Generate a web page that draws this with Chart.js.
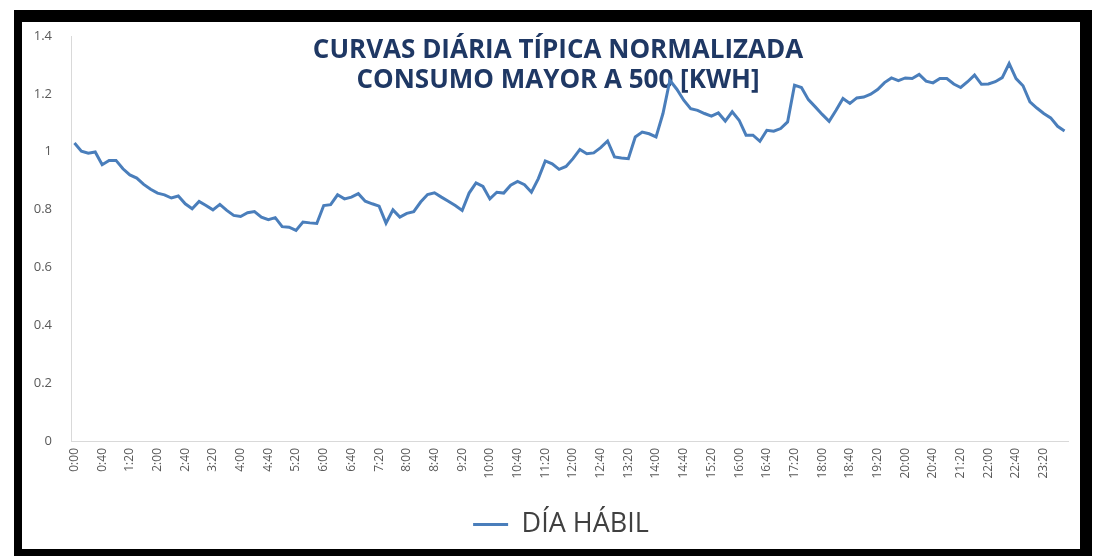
<!DOCTYPE html>
<html>
<head>
<meta charset="utf-8">
<script src="https://cdn.jsdelivr.net/npm/chart.js"></script>
<style>
  body { margin: 0; background: #fff; }
  #frame { position: absolute; left: 14px; top: 10px; width: 1078px; height: 546px; background: #000; }
  #inner { position: absolute; left: 8px; top: 12px; width: 1058px; height: 527px; background: #fff; }
</style>
</head>
<body>
<div id="frame">
  <div id="inner">
    <canvas id="chart1" width="1058" height="527"></canvas>
  </div>
</div>
<script>
// titulo y leyenda
var titleLines = ['CURVAS DIÁRIA TÍPICA NORMALIZADA', 'CONSUMO MAYOR A 500 [KWH]'];
var seriesName = 'DÍA HÁBIL';

// horas cada 10 minutos
var hours = [];
for (var h = 0; h < 24; h++) {
  for (var m = 0; m < 60; m += 10) {
    hours.push(h + ':' + (m < 10 ? '0' + m : m));
  }
}

// consumo normalizado, dia habil
var diaHabil = [
  1.030, 1.002, 0.995, 0.999, 0.955, 0.970, 0.970, 0.941, 0.920, 0.909, 0.887, 0.870,
  0.857, 0.851, 0.840, 0.847, 0.820, 0.803, 0.828, 0.814, 0.799, 0.818, 0.797, 0.780,
  0.776, 0.789, 0.793, 0.774, 0.765, 0.772, 0.741, 0.739, 0.728, 0.757, 0.754, 0.752,
  0.814, 0.817, 0.851, 0.837, 0.843, 0.855, 0.829, 0.820, 0.812, 0.753, 0.799, 0.774,
  0.787, 0.793, 0.826, 0.852, 0.858, 0.843, 0.829, 0.814, 0.797, 0.857, 0.892, 0.880,
  0.837, 0.860, 0.857, 0.884, 0.897, 0.886, 0.860, 0.907, 0.968, 0.958, 0.939, 0.949,
  0.976, 1.008, 0.993, 0.996, 1.014, 1.037, 0.982, 0.978, 0.976, 1.051, 1.068, 1.062,
  1.051, 1.132, 1.247, 1.216, 1.178, 1.149, 1.143, 1.132, 1.123, 1.134, 1.106, 1.138,
  1.109, 1.057, 1.057, 1.036, 1.074, 1.071, 1.080, 1.103, 1.230, 1.222, 1.180, 1.155,
  1.129, 1.105, 1.143, 1.184, 1.167, 1.186, 1.189, 1.199, 1.215, 1.239, 1.255, 1.246,
  1.255, 1.253, 1.267, 1.244, 1.238, 1.253, 1.253, 1.234, 1.222, 1.242, 1.265, 1.233,
  1.234, 1.242, 1.256, 1.305, 1.253, 1.228, 1.172, 1.151, 1.132, 1.117, 1.088, 1.072
];

var lineColor = '#4a7ebb';
var gridGrey = '#d9d9d9';
var textGrey = '#595959';

// titulo dibujado dentro del area del grafico, debajo de la linea
var overlayTitle = {
  id: 'overlayTitle',
  afterLayout: function(chart) {
    // la leyenda del original esta un poco corrida a la derecha
    chart.legend.left += 16;
    chart.legend.right += 16;
  },
  beforeDatasetsDraw: function(chart) {
    var ctx = chart.ctx;
    ctx.save();
    ctx.fillStyle = '#1f3864';
    ctx.font = 'bold 26px "Open Sans"';
    ctx.textAlign = 'center';
    ctx.textBaseline = 'middle';
    ctx.fillText(titleLines[0], 536, 29);
    ctx.fillText(titleLines[1], 536, 59);
    ctx.restore();
  }
};

var ch1 = document.getElementById('chart1').getContext('2d');
var chart1 = new Chart(ch1, {
  type: 'line',
  data: {
    labels: hours,
    datasets: [
      {
        label: seriesName,
        data: diaHabil,
        borderColor: lineColor,
        backgroundColor: lineColor,
        borderWidth: 3,
        pointRadius: 0,
        tension: 0
      }
    ]
  },
  plugins: [overlayTitle],
  options: {
    responsive: false,
    animation: false,
    layout: { padding: { left: 0, right: 12, top: 14, bottom: 1 } },
    scales: {
      x: {
        offset: true,
        grid: { display: false, drawTicks: false },
        border: { display: true, color: gridGrey, width: 1 },
        ticks: {
          autoSkip: false,
          minRotation: 90,
          maxRotation: 90,
          padding: 7,
          color: textGrey,
          font: { family: 'Open Sans', size: 12 },
          callback: function(val, idx) {
            return idx % 4 === 0 ? hours[idx] : '';
          }
        },
        afterFit: function(scale) {
          scale.height = 60;
          scale.paddingLeft = 0;
          scale.paddingRight = 0;
        }
      },
      y: {
        min: 0,
        max: 1.4,
        grid: { display: false, drawTicks: false },
        border: { display: true, color: gridGrey, width: 1 },
        ticks: {
          stepSize: 0.2,
          padding: 19,
          color: textGrey,
          font: { family: 'Open Sans', size: 13 },
          callback: function(v) { return String(+v.toFixed(1)); }
        },
        afterFit: function(scale) {
          scale.width = 49;
          scale.paddingTop = 0;
          scale.paddingBottom = 0;
        }
      }
    },
    plugins: {
      title: { display: false },
      tooltip: { enabled: false },
      legend: {
        position: 'bottom',
        labels: {
          boxWidth: 35,
          boxHeight: 3,
          color: '#404040',
          font: { family: 'Open Sans', size: 27 },
          generateLabels: function(chart) {
            var items = Chart.defaults.plugins.legend.labels.generateLabels(chart);
            items.forEach(function(it) { it.lineWidth = 0; it.fillStyle = lineColor; });
            return items;
          }
        }
      }
    }
  }
});
</script>
</body>
</html>
